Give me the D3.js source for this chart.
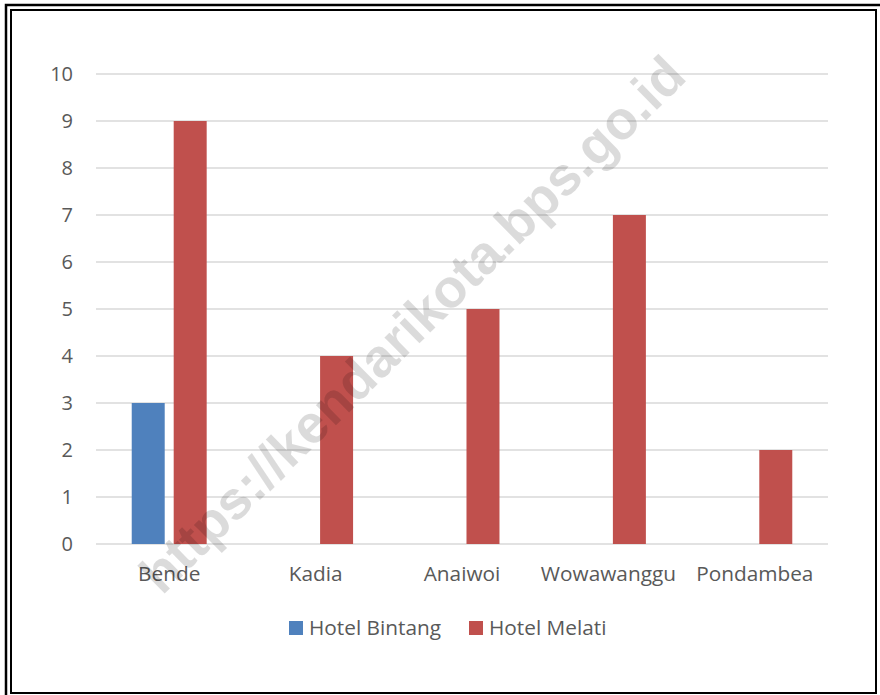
<!DOCTYPE html>
<html>
<head>
<meta charset="utf-8">
<script src="https://cdn.jsdelivr.net/npm/d3@7"></script>
<style>
  body { margin: 0; background: #fff; }
  svg { display: block; }
</style>
</head>
<body>
<svg id="chart"></svg>
<script>
const categories = ["Bende", "Kadia", "Anaiwoi", "Wowawanggu", "Pondambea"];
const seriesNames = ["Hotel Bintang", "Hotel Melati"];
const hotelBintang = [3, 0, 0, 0, 0];
const hotelMelati = [9, 4, 5, 7, 2];
const yTicks = [0, 1, 2, 3, 4, 5, 6, 7, 8, 9, 10];
const colors = ["#4f81bd", "#c0504d"];

const W = 880, H = 695;
const plot = { left: 96, right: 828, top: 74, bottom: 544 };
const fontFamily = "'Open Sans', sans-serif";
const textColor = "#595959";

const svg = d3.select("#chart").attr("width", W).attr("height", H);

const data = categories.map((c, i) => ({
  cat: c,
  values: [hotelBintang[i], hotelMelati[i]]
}));

const x0 = d3.scaleBand()
  .domain(categories)
  .range([plot.left, plot.right])
  .paddingInner(0.488)
  .paddingOuter(0.244);

const x1 = d3.scaleBand()
  .domain(seriesNames)
  .range([0, x0.bandwidth()])
  .paddingInner(0.214);

const y = d3.scaleLinear()
  .domain([0, 10])
  .range([plot.bottom, plot.top]);

// gridlines
svg.append("g")
  .selectAll("line")
  .data(yTicks)
  .join("line")
  .attr("x1", plot.left)
  .attr("x2", plot.right)
  .attr("y1", d => y(d))
  .attr("y2", d => y(d))
  .attr("stroke", "#d9d9d9")
  .attr("stroke-width", 1.3);

// y axis labels
const yAxis = svg.append("g")
  .attr("transform", `translate(${plot.left - 23},0)`)
  .call(d3.axisLeft(y).tickValues(yTicks).tickSize(0).tickPadding(0));
yAxis.select(".domain").remove();
yAxis.selectAll("text")
  .attr("fill", textColor)
  .style("font-family", fontFamily)
  .style("font-size", "20px");

// bars
const groups = svg.append("g")
  .selectAll("g")
  .data(data)
  .join("g")
  .attr("transform", d => `translate(${x0(d.cat)},0)`);

groups.selectAll("rect")
  .data(d => d.values.map((v, i) => ({ name: seriesNames[i], value: v, i })))
  .join("rect")
  .attr("x", d => x1(d.name))
  .attr("y", d => y(d.value))
  .attr("width", x1.bandwidth())
  .attr("height", d => y(0) - y(d.value))
  .attr("fill", d => colors[d.i]);

// x axis labels
const xAxis = svg.append("g")
  .attr("transform", `translate(0,${plot.bottom})`)
  .call(d3.axisBottom(x0).tickSize(0).tickPadding(0));
xAxis.select(".domain").remove();
xAxis.selectAll("text")
  .attr("dy", null)
  .attr("y", 37)
  .attr("fill", textColor)
  .style("font-family", fontFamily)
  .style("font-size", "20.8px");

// legend
const legendItems = [
  { name: seriesNames[0], color: colors[0], x: 289 },
  { name: seriesNames[1], color: colors[1], x: 469 }
];
const legend = svg.append("g");
legendItems.forEach(it => {
  legend.append("rect")
    .attr("x", it.x)
    .attr("y", 621)
    .attr("width", 14)
    .attr("height", 14)
    .attr("fill", it.color);
  legend.append("text")
    .attr("x", it.x + 20)
    .attr("y", 635)
    .attr("fill", textColor)
    .style("font-family", fontFamily)
    .style("font-size", "20.8px")
    .text(it.name);
});

// watermark
svg.append("text")
  .attr("transform", "translate(412,324) rotate(-44.5)")
  .attr("text-anchor", "middle")
  .attr("dy", "0.35em")
  .attr("fill", "rgba(0,0,0,0.14)")
  .style("font-family", "'Liberation Sans', Arial, sans-serif")
  .style("font-weight", "bold")
  .style("font-size", "54px")
  .text("https://kendarikota.bps.go.id");

// double border frame
svg.append("rect")
  .attr("x", 6).attr("y", 5)
  .attr("width", W).attr("height", H)
  .attr("fill", "none")
  .attr("stroke", "#000")
  .attr("stroke-width", 2.5);
svg.append("rect")
  .attr("x", 11).attr("y", 10)
  .attr("width", 865).attr("height", 683)
  .attr("fill", "none")
  .attr("stroke", "#000")
  .attr("stroke-width", 2);
</script>
</body>
</html>
